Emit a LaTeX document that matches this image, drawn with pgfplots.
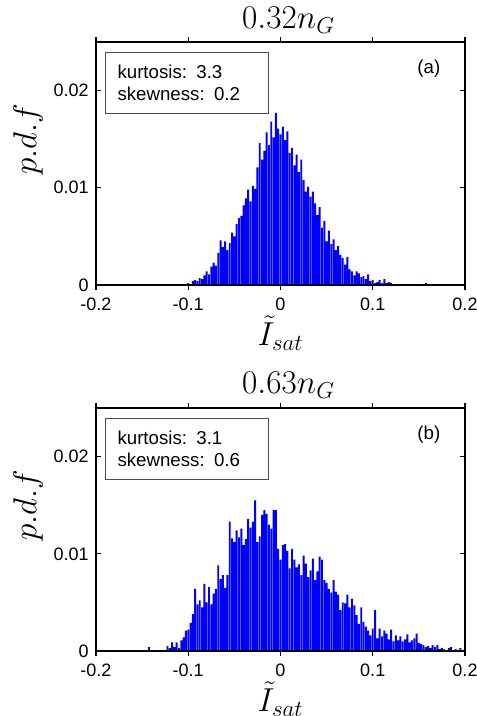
\documentclass[border=0pt]{standalone}
\usepackage{pgfplots}
\pgfplotsset{compat=1.18}
\usepackage{fontspec}
\setmainfont{Liberation Sans}

\pgfplotstableread{
x y
-0.1000 0.0002
-0.0975 0.0001
-0.0950 0.0004
-0.0925 0.0005
-0.0900 0.0004
-0.0875 0.0007
-0.0850 0.0006
-0.0825 0.0010
-0.0800 0.0014
-0.0775 0.0011
-0.0750 0.0019
-0.0725 0.0023
-0.0700 0.0020
-0.0675 0.0033
-0.0650 0.0046
-0.0625 0.0039
-0.0600 0.0045
-0.0575 0.0036
-0.0550 0.0043
-0.0525 0.0054
-0.0500 0.0050
-0.0475 0.0063
-0.0450 0.0069
-0.0425 0.0071
-0.0400 0.0082
-0.0375 0.0089
-0.0350 0.0098
-0.0325 0.0086
-0.0300 0.0102
-0.0275 0.0099
-0.0250 0.0121
-0.0225 0.0146
-0.0200 0.0129
-0.0175 0.0138
-0.0150 0.0157
-0.0125 0.0144
-0.0100 0.0168
-0.0075 0.0152
-0.0050 0.0177
-0.0025 0.0161
0.0000 0.0155
0.0025 0.0163
0.0050 0.0149
0.0075 0.0158
0.0100 0.0136
0.0125 0.0141
0.0150 0.0123
0.0175 0.0134
0.0200 0.0116
0.0225 0.0129
0.0250 0.0108
0.0275 0.0096
0.0300 0.0101
0.0325 0.0091
0.0350 0.0096
0.0375 0.0084
0.0400 0.0072
0.0425 0.0080
0.0450 0.0059
0.0475 0.0066
0.0500 0.0045
0.0525 0.0056
0.0550 0.0042
0.0575 0.0047
0.0600 0.0036
0.0625 0.0040
0.0650 0.0031
0.0675 0.0028
0.0700 0.0021
0.0725 0.0029
0.0750 0.0016
0.0775 0.0014
0.0800 0.0010
0.0825 0.0014
0.0850 0.0012
0.0875 0.0008
0.0900 0.0009
0.0925 0.0006
0.0950 0.0011
0.0975 0.0004
0.1000 0.0005
0.1025 0.0002
0.1050 0.0003
0.1075 0.0005
0.1100 0.0002
0.1125 0.0006
0.1150 0.0002
0.1175 0.0003
0.1200 0.0002
0.1575 0.0002
}\histA

\pgfplotstableread{
x y
-0.1425 0.0004
-0.1350 0.0001
-0.1300 0.0001
-0.1250 0.0001
-0.1225 0.0005
-0.1200 0.0003
-0.1175 0.0009
-0.1150 0.0004
-0.1125 0.0009
-0.1100 0.0003
-0.1075 0.0011
-0.1050 0.0014
-0.1025 0.0021
-0.1000 0.0022
-0.0975 0.0029
-0.0950 0.0038
-0.0925 0.0064
-0.0900 0.0048
-0.0875 0.0052
-0.0850 0.0045
-0.0825 0.0069
-0.0800 0.0050
-0.0775 0.0066
-0.0750 0.0048
-0.0725 0.0059
-0.0700 0.0064
-0.0675 0.0088
-0.0650 0.0074
-0.0625 0.0078
-0.0600 0.0065
-0.0575 0.0078
-0.0550 0.0133
-0.0525 0.0116
-0.0500 0.0112
-0.0475 0.0124
-0.0450 0.0117
-0.0425 0.0126
-0.0400 0.0109
-0.0375 0.0115
-0.0350 0.0136
-0.0325 0.0127
-0.0300 0.0133
-0.0275 0.0155
-0.0250 0.0112
-0.0225 0.0118
-0.0200 0.0140
-0.0175 0.0145
-0.0150 0.0141
-0.0125 0.0130
-0.0100 0.0126
-0.0075 0.0145
-0.0050 0.0145
-0.0025 0.0105
0.0000 0.0094
0.0025 0.0109
0.0050 0.0110
0.0075 0.0103
0.0100 0.0085
0.0125 0.0105
0.0150 0.0094
0.0175 0.0086
0.0200 0.0089
0.0225 0.0078
0.0250 0.0098
0.0275 0.0090
0.0300 0.0076
0.0325 0.0083
0.0350 0.0095
0.0375 0.0073
0.0400 0.0082
0.0425 0.0097
0.0450 0.0094
0.0475 0.0073
0.0500 0.0070
0.0525 0.0064
0.0550 0.0060
0.0575 0.0073
0.0600 0.0061
0.0625 0.0058
0.0650 0.0042
0.0675 0.0050
0.0700 0.0049
0.0725 0.0058
0.0750 0.0045
0.0775 0.0054
0.0800 0.0047
0.0825 0.0037
0.0850 0.0028
0.0875 0.0045
0.0900 0.0030
0.0925 0.0025
0.0950 0.0021
0.0975 0.0016
0.1000 0.0023
0.1025 0.0042
0.1050 0.0013
0.1075 0.0023
0.1100 0.0015
0.1125 0.0021
0.1150 0.0018
0.1175 0.0012
0.1200 0.0022
0.1225 0.0010
0.1250 0.0016
0.1275 0.0011
0.1300 0.0015
0.1325 0.0010
0.1350 0.0012
0.1375 0.0017
0.1400 0.0009
0.1425 0.0011
0.1450 0.0013
0.1475 0.0018
0.1500 0.0008
0.1525 0.0007
0.1550 0.0006
0.1575 0.0004
0.1600 0.0005
0.1625 0.0003
0.1650 0.0006
0.1675 0.0004
0.1700 0.0006
0.1725 0.0002
0.1750 0.0003
0.1775 0.0002
0.1800 0.0001
0.1825 0.0003
0.1850 0.0004
0.1875 0.0001
0.1900 0.0002
0.1950 0.0003
}\histB

\pgfplotsset{
  histo/.style={
    scale only axis, width=276.75pt, height=182.25pt,
    xmin=-0.2, xmax=0.2, ymin=0, ymax=0.025,
    xtick={-0.2,-0.1,0,0.1,0.2}, ytick={0,0.01,0.02},
    scaled ticks=false, clip=false,
    /pgf/number format/fixed,
    /pgf/number format/precision=3,
    /pgf/number format/assume math mode=true,
    tick align=inside, major tick length=3.5pt,
    tick style={black, line width=1pt},
    axis line style={line width=1.6pt},
    ticklabel style={font=\fontsize{13.5}{16}\selectfont},
    xticklabel style={yshift=-3pt},
    yticklabel style={xshift=-2pt},
    axis on top,
    ybar, bar width=0.0021,
  },
}
\tikzset{
  stats/.style={draw=black!70, line width=0.6pt, anchor=north west, fill=white,
    minimum width=122.25pt, minimum height=45.75pt, text width=104pt,
    inner xsep=9pt, align=left, font=\fontsize{14}{16.5}\selectfont},
  big/.style={font=\fontsize{23}{27}\selectfont},
}

\begin{document}
\begin{tikzpicture}
\begin{axis}[histo, at={(0,0)}]
  \addplot[fill=blue, draw=none] table {\histA};
  \node[stats, xshift=6.75pt, yshift=-7.5pt] at (rel axis cs:0,1) {kurtosis: 3.3\\skewness: 0.2};
  \node[anchor=east, font=\fontsize{14}{16}\selectfont, xshift=-15pt, yshift=-20.25pt] at (rel axis cs:1,1) {(a)};
  \node[big, xshift=6pt, yshift=16.5pt] at (rel axis cs:0.5,1) {$0.32n_G$};
  \node[big, xshift=-51pt, rotate=90] at (rel axis cs:0,0.6) {$p.d.f$};
  \node[big, yshift=-36pt] at (rel axis cs:0.5,0) {$\tilde{I}_{sat}$};
\end{axis}
\begin{axis}[histo, at={(0,-274.5pt)}]
  \addplot[fill=blue, draw=none] table {\histB};
  \node[stats, xshift=6.75pt, yshift=-7.5pt] at (rel axis cs:0,1) {kurtosis: 3.1\\skewness: 0.6};
  \node[anchor=east, font=\fontsize{14}{16}\selectfont, xshift=-15pt, yshift=-20.25pt] at (rel axis cs:1,1) {(b)};
  \node[big, xshift=6pt, yshift=17pt] at (rel axis cs:0.5,1) {$0.63n_G$};
  \node[big, xshift=-51pt, rotate=90] at (rel axis cs:0,0.6) {$p.d.f$};
  \node[big, yshift=-36pt] at (rel axis cs:0.5,0) {$\tilde{I}_{sat}$};
\end{axis}
\pgfresetboundingbox
\path (-72pt,-323.25pt) rectangle (285pt,213.75pt);
\end{tikzpicture}
\end{document}
